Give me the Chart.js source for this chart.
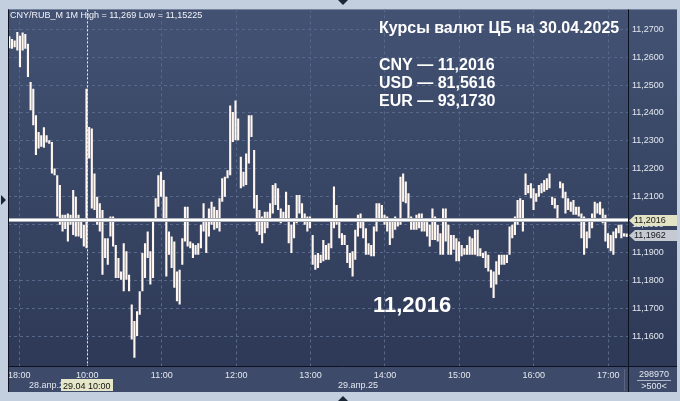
<!DOCTYPE html>
<html><head><meta charset="utf-8">
<script src="https://cdn.jsdelivr.net/npm/chart.js@4"></script>
<style>html,body{margin:0;padding:0;background:#c3cfdf;}canvas{display:block;}</style>
</head><body>
<canvas id="c" width="680" height="401"></canvas>
<script>
// ---- data (minute bars, high/low) ----
const barHigh = [
11.2675,11.2665,11.2660,11.2690,11.2677,11.2689,11.2683,11.2648,11.2511,11.2487,
11.2392,11.2332,11.2320,11.2349,11.2320,11.2302,11.2296,11.2201,11.2177,11.2142,
11.2035,11.2035,11.2040,11.2035,11.2124,11.2100,11.2035,11.2011,11.1999,11.2487,
11.2350,11.2344,11.2183,11.2100,11.2076,11.2052,11.1951,11.1951,11.2029,11.2029,
11.1927,11.1880,11.1832,11.1933,11.1904,11.1820,11.1713,
11.1654,11.1689,11.1761,11.1898,11.1933,11.1975,11.1904,11.2017,11.2094,11.2177,
11.2189,11.2160,11.2100,11.1975,11.1957,11.1939,11.1832,11.1838,11.1951,11.2064,
11.2064,11.1939,11.1933,11.1927,11.1933,11.1999,11.2076,11.2011,11.2058,11.2082,
11.2064,11.2052,11.2094,11.2166,11.2171,11.2195,11.2427,11.2404,11.2445,11.2380,
11.2243,11.2189,11.2255,11.2392,11.2392,11.2267,11.2106,
11.2052,11.2029,11.2046,11.2046,11.2076,11.2142,11.2148,11.2130,11.2058,11.2046,
11.2118,11.2070,11.1999,11.2023,11.2106,11.2106,11.2076,11.2040,11.2029,11.2029,
11.1963,11.1892,11.1898,11.1892,11.1945,11.1927,11.1933,11.2011,11.2136,11.2070,
11.2023,11.1969,11.1963,11.1927,11.1898,11.1904,11.1981,11.2035,11.2040,11.2011,
11.1987,11.1933,11.1927,11.1993,11.2076,11.2076,
11.2070,11.2035,11.2029,11.2011,11.2011,11.2029,11.2023,11.2171,11.2183,11.2154,
11.2112,11.2029,11.2017,11.2035,11.2040,11.2040,11.2011,11.2023,11.1999,11.2058,
11.2029,11.1999,11.1969,11.2058,11.2058,11.1999,11.1963,11.1963,11.1951,11.1939,
11.1927,11.1915,11.1927,11.1957,11.1951,11.1981,11.1981,11.1915,11.1898,11.1904,
11.1892,11.1838,11.1832,11.1868,11.1892,11.1892,11.1892,
11.1892,11.1993,11.1999,11.2029,11.2088,11.2094,11.2088,11.2183,11.2142,11.2148,
11.2130,11.2112,11.2142,11.2148,11.2160,11.2166,11.2183,11.2100,11.2094,11.2070,
11.2154,11.2148,11.2118,11.2094,11.2082,11.2088,11.2064,11.2064,11.2040,11.2029,
11.1975,11.2011,11.2040,11.2082,11.2076,11.2082,11.2058,11.2035,11.1969,11.1963,
11.1975,11.1987,11.1999,11.1999,11.1969,11.1968
];
const barLow = [
11.2632,11.2630,11.2636,11.2624,11.2564,11.2624,11.2630,11.2529,11.2410,11.2356,
11.2249,11.2273,11.2279,11.2275,11.2294,11.2290,11.2183,11.2177,11.2029,11.1999,
11.1975,11.1984,11.1939,11.1999,11.1963,11.1957,11.1957,11.1951,11.1921,11.1915,
11.2237,11.2058,11.2052,11.1999,11.1975,11.1820,11.1880,11.1856,11.1957,11.1921,
11.1808,11.1808,11.1802,11.1761,11.1802,11.1761,11.1588,
11.15225,11.1600,11.1677,11.1761,11.1808,11.1880,11.1785,11.1808,11.2011,11.2064,
11.2100,11.2023,11.1814,11.1892,11.1844,11.1773,11.1725,11.1713,11.1856,11.1939,
11.1921,11.1915,11.1880,11.1892,11.1892,11.1915,11.1975,11.1898,11.1957,11.1999,
11.1981,11.1987,11.1975,11.2082,11.2100,11.2166,11.2177,11.2296,11.2302,11.2302,
11.2130,11.2136,11.2142,11.2219,11.2314,11.2058,11.1975,
11.1963,11.1933,11.1969,11.1987,11.2011,11.2040,11.2070,11.2052,11.2005,11.2011,
11.2011,11.1933,11.1898,11.1951,11.2005,11.2040,11.2017,11.1999,11.1975,11.1987,
11.1856,11.1838,11.1844,11.1862,11.1868,11.1874,11.1874,11.1915,11.1987,11.1999,
11.1951,11.1927,11.1927,11.1862,11.1844,11.1814,11.1874,11.1957,11.1987,11.1951,
11.1892,11.1892,11.1886,11.1886,11.1975,11.2023,
11.2011,11.1999,11.1975,11.1927,11.1951,11.1981,11.1993,11.1999,11.2082,11.2076,
11.2023,11.1981,11.1981,11.1981,11.1987,11.1975,11.1975,11.1957,11.1921,11.1945,
11.1945,11.1939,11.1892,11.1892,11.1939,11.1892,11.1892,11.1910,11.1868,11.1868,
11.1886,11.1892,11.1892,11.1892,11.1892,11.1892,11.1886,11.1886,11.1880,11.1844,
11.1832,11.1773,11.1737,11.1785,11.1820,11.1856,11.1856,
11.1862,11.1892,11.1951,11.1963,11.1999,11.2023,11.1975,11.2106,11.2112,11.2094,
11.2052,11.2082,11.2100,11.2112,11.2118,11.2124,11.2130,11.2070,11.2058,11.2011,
11.2130,11.2094,11.2040,11.2052,11.2046,11.2035,11.2035,11.2029,11.1951,11.1892,
11.1915,11.1951,11.1987,11.2023,11.2040,11.2035,11.2005,11.1939,11.1915,11.1904,
11.1892,11.1951,11.1969,11.1951,11.1957,11.1955
];
const sessionMinutes = 500;
const hourTickMinutes = [9, 64, 124, 184, 244, 304, 364, 424, 484];
const hourTickLabels = ['18:00','10:00','11:00','12:00','13:00','14:00','15:00','16:00','17:00'];
const priceTicks = [11.16,11.17,11.18,11.19,11.20,11.21,11.22,11.23,11.24,11.25,11.26,11.27];
const yMin = 11.149286, yMax = 11.277143;
const cursorMinute = 64;
const cbRate = 11.2016;
const lastPrice = 11.1962;
const headerText = 'CNY/RUB_M 1M High = 11,269 Low = 11,15225';
const cbTitle = 'Курсы валют ЦБ на 30.04.2025';
const cbRates = ['CNY — 11,2016', 'USD — 81,5616', 'EUR — 93,1730'];
const bigValue = '11,2016';
const dateLabels = ['28.апр.25', '29.апр.25'];
const cursorLabel = '29.04 10:00';
const volumeText = '298970';
const barsText = '>500<';

const FONT = "'Liberation Sans', Arial, sans-serif";
const fmt = v => v.toFixed(4).replace('.', ',');

const decor = {
  id: 'decor',
  beforeDraw(chart) {
    const c = chart.ctx, a = chart.chartArea;
    c.save();
    c.fillStyle = '#c3cfdf';
    c.fillRect(0, 0, 680, 401);
    const g = c.createLinearGradient(0, a.top, 0, a.bottom);
    g.addColorStop(0, '#435273');
    g.addColorStop(1, '#2d3956');
    c.fillStyle = g;
    c.fillRect(a.left, a.top, 677 - a.left, a.bottom - a.top);
    c.fillStyle = '#3d4a69';
    c.fillRect(a.left, a.bottom, 677 - a.left, 392 - a.bottom);
    c.restore();
  },
  afterDatasetsDraw(chart) {
    const c = chart.ctx, a = chart.chartArea;
    const y = Math.round(chart.scales.y.getPixelForValue(cbRate));
    c.save();
    c.fillStyle = '#a9aeb8';
    c.fillRect(a.left, y - 2, a.right - a.left, 4);
    c.fillStyle = '#ffffff';
    c.fillRect(a.left, y - 1, a.right - a.left, 2);
    const x = Math.round(chart.scales.x.getPixelForValue(cursorMinute)) + 0.5;
    c.strokeStyle = '#e8ecf4';
    c.lineWidth = 1;
    c.setLineDash([2, 2]);
    c.beginPath(); c.moveTo(x, a.top); c.lineTo(x, a.bottom); c.stroke();
    c.restore();
  },
  afterDraw(chart) {
    const c = chart.ctx, a = chart.chartArea;
    c.save();
    // panel borders
    c.strokeStyle = '#0d1220';
    c.lineWidth = 1;
    c.beginPath();
    c.moveTo(a.right + 0.5, a.top); c.lineTo(a.right + 0.5, 392);
    c.moveTo(a.left, a.bottom + 0.5); c.lineTo(677, a.bottom + 0.5);
    c.moveTo(a.left + 0.5, a.top); c.lineTo(a.left + 0.5, 392);
    c.stroke();
    c.strokeStyle = '#5a6784';
    c.beginPath(); c.moveTo(624.5, 369); c.lineTo(624.5, 391); c.stroke();
    // triangles on the frame
    c.fillStyle = '#1c2536';
    c.beginPath(); c.moveTo(338, 0); c.lineTo(348, 0); c.lineTo(343, 5); c.fill();
    c.beginPath(); c.moveTo(338, 401); c.lineTo(348, 401); c.lineTo(343, 396); c.fill();
    c.beginPath(); c.moveTo(1, 195); c.lineTo(1, 205); c.lineTo(6, 200); c.fill();
    // header
    c.fillStyle = '#f2f4f8';
    c.font = '9px ' + FONT;
    c.textBaseline = 'alphabetic';
    c.fillText(headerText, 10, 18);
    // CB rates block
    c.fillStyle = '#ffffff';
    c.font = 'bold 16px ' + FONT;
    c.fillText(cbTitle, 379, 33);
    cbRates.forEach((t, i) => c.fillText(t, 379, 70 + i * 18));
    c.font = 'bold 22px ' + FONT;
    c.fillText(bigValue, 373, 312);
    // bottom panel texts
    c.font = '9px ' + FONT;
    c.fillStyle = '#e3e8f0';
    c.fillText(dateLabels[0], 29, 388);
    c.fillText(dateLabels[1], 338, 388);
    c.fillStyle = '#e6e6c8';
    c.fillRect(61, 379, 52, 12);
    c.fillStyle = '#111111';
    c.fillText(cursorLabel, 63, 388.5);
    c.fillStyle = '#e3e8f0';
    c.textAlign = 'center';
    c.fillText(volumeText, 654, 377);
    c.fillText(barsText, 654, 389);
    c.strokeStyle = '#aab4c4';
    c.beginPath(); c.moveTo(637, 380.5); c.lineTo(671, 380.5); c.stroke();
    c.textAlign = 'left';
    // price tags on the right axis
    const tag = (v, fill) => {
      const y = Math.round(chart.scales.y.getPixelForValue(v)) + 0.5;
      c.beginPath();
      c.moveTo(629, y); c.lineTo(635, y - 5.5); c.lineTo(677, y - 5.5);
      c.lineTo(677, y + 5.5); c.lineTo(635, y + 5.5); c.closePath();
      c.fillStyle = fill; c.fill();
      c.fillStyle = '#1a1a1a';
      c.textBaseline = 'middle';
      c.fillText(fmt(v), 634, y + 0.5);
    };
    tag(cbRate, '#e2e2c4');
    tag(lastPrice, '#c4c9d2');
    c.restore();
  }
};

new Chart(document.getElementById('c'), {
  type: 'bar',
  data: {
    datasets: [{
      data: barHigh.map((h, i) => ({ x: (i + 0.5) * sessionMinutes / barHigh.length, y: [barLow[i], h] })),
      backgroundColor: '#fff6f0',
      borderWidth: 0,
      barPercentage: 1,
      categoryPercentage: 0.8
    }]
  },
  options: {
    responsive: false,
    animation: false,
    devicePixelRatio: 1,
    layout: { padding: { left: 8, top: 8, right: 0, bottom: 0 } },
    plugins: { legend: { display: false }, tooltip: { enabled: false } },
    scales: {
      x: {
        type: 'linear', min: 0, max: sessionMinutes, offset: false,
        afterBuildTicks: s => { s.ticks = hourTickMinutes.map(v => ({ value: v })); },
        afterFit: s => { s.height = 35; },
        ticks: {
          callback: (v, i) => hourTickLabels[i],
          color: '#e3e8f0', font: { family: FONT, size: 9 },
          padding: 4, maxRotation: 0, autoSkip: false
        },
        grid: { color: '#58688a', drawTicks: false, offset: false, borderDash: [3, 3] },
        border: { display: false, dash: [3, 3] }
      },
      y: {
        position: 'right', min: yMin, max: yMax,
        afterBuildTicks: s => { s.ticks = priceTicks.map(v => ({ value: v })); },
        afterFit: s => { s.width = 52; },
        ticks: {
          callback: v => fmt(v),
          color: '#e3e8f0', font: { family: FONT, size: 9 },
          padding: 4, autoSkip: false
        },
        grid: { color: '#58688a', drawTicks: false, borderDash: [3, 3] },
        border: { display: false, dash: [3, 3] }
      }
    }
  },
  plugins: [decor]
});
</script>
</body></html>
